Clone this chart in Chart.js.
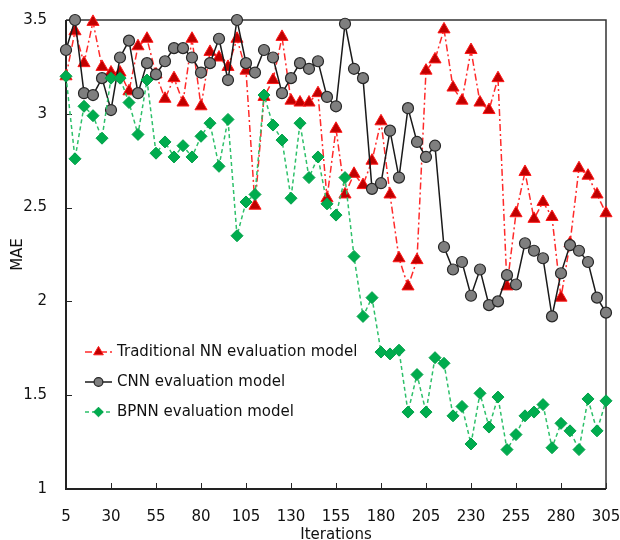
<!DOCTYPE html>
<html>
<head>
<meta charset="utf-8">
<script src="https://cdn.jsdelivr.net/npm/chart.js@4.4.1/dist/chart.umd.min.js"></script>
<style>
  html, body { margin: 0; padding: 0; background: #fff; }
  #wrap { width: 620px; height: 540px; }
</style>
</head>
<body>
<div id="wrap"><canvas id="maeChart" width="620" height="540"></canvas></div>
<script>
const iterations = [
  5, 10, 15, 20, 25, 30, 35, 40, 45, 50, 55, 60, 65, 70, 75, 80, 85, 90, 95, 100,
  105, 110, 115, 120, 125, 130, 135, 140, 145, 150, 155, 160, 165, 170, 175, 180, 185, 190, 195, 200,
  205, 210, 215, 220, 225, 230, 235, 240, 245, 250, 255, 260, 265, 270, 275, 280, 285, 290, 295, 300,
  305
];
const xTickLabels = [5, 30, 55, 80, 105, 130, 155, 180, 205, 230, 255, 280, 305];

const traditionalNN = [
  3.20, 3.44, 3.27, 3.49, 3.25, 3.22, 3.22, 3.12, 3.36, 3.40, 3.21, 3.08, 3.19, 3.06, 3.40, 3.04, 3.33, 3.30, 3.25, 3.40,
  3.23, 2.51, 3.09, 3.18, 3.41, 3.07, 3.06, 3.06, 3.11, 2.55, 2.92, 2.57, 2.68, 2.62, 2.75, 2.96, 2.57, 2.23, 2.08, 2.22,
  3.23, 3.29, 3.45, 3.14, 3.07, 3.34, 3.06, 3.02, 3.19, 2.08, 2.47, 2.69, 2.44, 2.53, 2.45, 2.02, 2.31, 2.71, 2.67, 2.57,
  2.47
];
const cnn = [
  3.34, 3.50, 3.11, 3.10, 3.19, 3.02, 3.30, 3.39, 3.11, 3.27, 3.21, 3.28, 3.35, 3.35, 3.30, 3.22, 3.27, 3.40, 3.18, 3.50,
  3.27, 3.22, 3.34, 3.30, 3.11, 3.19, 3.27, 3.24, 3.28, 3.09, 3.04, 3.48, 3.24, 3.19, 2.60, 2.63, 2.91, 2.66, 3.03, 2.85,
  2.77, 2.83, 2.29, 2.17, 2.21, 2.03, 2.17, 1.98, 2.00, 2.14, 2.09, 2.31, 2.27, 2.23, 1.92, 2.15, 2.30, 2.27, 2.21, 2.02,
  1.94
];
const bpnn = [
  3.20, 2.76, 3.04, 2.99, 2.87, 3.19, 3.19, 3.06, 2.89, 3.18, 2.79, 2.85, 2.77, 2.83, 2.77, 2.88, 2.95, 2.72, 2.97, 2.35,
  2.53, 2.57, 3.10, 2.94, 2.86, 2.55, 2.95, 2.66, 2.77, 2.52, 2.46, 2.66, 2.24, 1.92, 2.02, 1.73, 1.72, 1.74, 1.41, 1.61,
  1.41, 1.70, 1.67, 1.39, 1.44, 1.24, 1.51, 1.33, 1.49, 1.21, 1.29, 1.39, 1.41, 1.45, 1.22, 1.35, 1.31, 1.21, 1.48, 1.31,
  1.47
];

const seriesNames = ['Traditional NN evaluation model', 'CNN evaluation model', 'BPNN evaluation model'];

const FONT = "Verdana, 'DejaVu Sans', sans-serif";

function toPoints(values) {
  return values.map((v, i) => ({ x: iterations[i], y: v }));
}

// frame + inward tick marks
const framePlugin = {
  id: 'frame',
  beforeDatasetsDraw(chart) {
    const { ctx, chartArea: a, scales } = chart;
    ctx.save();
    ctx.strokeStyle = '#262626';
    ctx.lineWidth = 1;
    scales.x.ticks.forEach(t => {
      const px = Math.round(scales.x.getPixelForValue(t.value)) + 0.5;
      ctx.beginPath();
      ctx.moveTo(px, a.bottom);
      ctx.lineTo(px, a.bottom - 6);
      ctx.stroke();
    });
    scales.y.ticks.forEach(t => {
      const py = Math.round(scales.y.getPixelForValue(t.value)) + 0.5;
      ctx.beginPath();
      ctx.moveTo(a.left, py);
      ctx.lineTo(a.left + 6, py);
      ctx.stroke();
    });
    ctx.lineWidth = 1.5;
    ctx.strokeStyle = '#333';
    ctx.beginPath();
    ctx.moveTo(a.left, a.top);
    ctx.lineTo(a.right, a.top);
    ctx.lineTo(a.right, a.bottom);
    ctx.stroke();
    ctx.lineWidth = 2;
    ctx.strokeStyle = '#222';
    ctx.beginPath();
    ctx.moveTo(a.left, a.top);
    ctx.lineTo(a.left, a.bottom);
    ctx.lineTo(a.right, a.bottom);
    ctx.stroke();
    ctx.restore();
  }
};

// legend box inside the plot, lower left
const legendPlugin = {
  id: 'innerLegend',
  afterDraw(chart) {
    const { ctx } = chart;
    const x0 = 85, x1 = 112, textX = 117;
    const rows = [352, 382, 412];
    ctx.save();
    chart.data.datasets.forEach((ds, i) => {
      const y = rows[i];
      ctx.strokeStyle = ds.borderColor;
      ctx.lineWidth = ds.borderWidth;
      ctx.setLineDash(ds.borderDash || []);
      ctx.beginPath();
      ctx.moveTo(x0, y);
      ctx.lineTo(x1, y);
      ctx.stroke();
      ctx.setLineDash([]);
      const opts = {
        pointStyle: ds.pointStyle,
        radius: ds.pointRadius * 0.8,
        rotation: 0,
        borderWidth: ds.pointBorderWidth
      };
      ctx.fillStyle = ds.pointBackgroundColor;
      ctx.strokeStyle = ds.pointBorderColor;
      ctx.lineWidth = ds.pointBorderWidth;
      Chart.helpers.drawPoint(ctx, opts, (x0 + x1) / 2, y);
      ctx.fillStyle = '#111';
      ctx.font = '15px ' + FONT;
      ctx.textBaseline = 'middle';
      ctx.fillText(ds.label, textX, y);
    });
    ctx.restore();
  }
};

new Chart(document.getElementById('maeChart'), {
  type: 'line',
  data: {
    datasets: [
      {
        label: seriesNames[0],
        data: toPoints(traditionalNN),
        borderColor: '#ff2a2a',
        borderWidth: 1.5,
        borderDash: [7, 3, 2, 3],
        pointStyle: 'triangle',
        pointRadius: 7,
        pointBackgroundColor: '#c00000',
        pointBorderColor: '#ff1a1a',
        pointBorderWidth: 1,
        tension: 0,
        clip: 12,
        order: 3
      },
      {
        label: seriesNames[1],
        data: toPoints(cnn),
        borderColor: '#1a1a1a',
        borderWidth: 1.5,
        pointStyle: 'circle',
        pointRadius: 5.5,
        pointBackgroundColor: '#7f7f7f',
        pointBorderColor: '#262626',
        pointBorderWidth: 1.2,
        tension: 0,
        clip: 12,
        order: 2
      },
      {
        label: seriesNames[2],
        data: toPoints(bpnn),
        borderColor: '#2dc06a',
        borderWidth: 1.5,
        borderDash: [4, 3],
        pointStyle: 'rectRot',
        pointRadius: 6,
        pointBackgroundColor: '#00ac4e',
        pointBorderColor: '#00a048',
        pointBorderWidth: 1,
        tension: 0,
        clip: 12,
        order: 1
      }
    ]
  },
  options: {
    responsive: false,
    animation: false,
    devicePixelRatio: 1,
    layout: { padding: { left: 0, top: 17, right: 14, bottom: 0 } },
    plugins: {
      legend: { display: false },
      tooltip: { enabled: false }
    },
    scales: {
      x: {
        type: 'linear',
        min: 5,
        max: 305,
        grid: { display: false },
        border: { display: false },
        afterBuildTicks: scale => {
          scale.ticks = xTickLabels.map(v => ({ value: v }));
        },
        afterFit: scale => {
          scale.height = 51;
          scale.paddingLeft = 0;
          scale.paddingRight = 0;
        },
        ticks: {
          autoSkip: false,
          maxRotation: 0,
          padding: 11,
          color: '#111',
          font: { family: FONT, size: 15 }
        },
        title: {
          display: true,
          text: 'Iterations',
          color: '#111',
          font: { family: FONT, size: 15 },
          padding: { top: 0, bottom: -4 }
        }
      },
      y: {
        min: 1,
        max: 3.5,
        grid: { display: false },
        border: { display: false },
        afterFit: scale => { scale.width = 66; },
        ticks: {
          stepSize: 0.5,
          padding: 11,
          color: '#111',
          font: { family: FONT, size: 15 },
          callback: v => String(Number(v))
        },
        title: {
          display: true,
          text: 'MAE',
          color: '#111',
          font: { family: FONT, size: 15 },
          padding: { top: 9, bottom: 0 }
        }
      }
    }
  },
  plugins: [framePlugin, legendPlugin]
});
</script>
</body>
</html>
